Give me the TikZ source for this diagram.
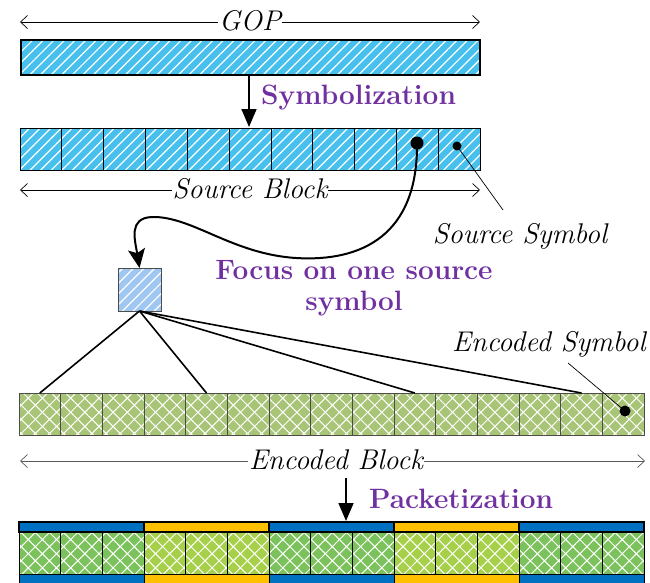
\documentclass[tikz,border=0pt]{standalone}
\usetikzlibrary{patterns.meta,arrows.meta}
\definecolor{srcblue}{RGB}{72,192,238}
\definecolor{focusblue}{RGB}{160,198,242}
\definecolor{encgreen}{RGB}{168,196,118}
\definecolor{pkgreenA}{RGB}{124,194,92}
\definecolor{pkgreenB}{RGB}{166,208,74}
\definecolor{hdrblue}{RGB}{0,112,192}
\definecolor{hdryellow}{RGB}{255,192,0}
\definecolor{steppurple}{RGB}{112,48,160}
\tikzset{
  % base colour and white stripes are laid down before the outline is stroked
  striped/.style={preaction={fill=#1},preaction={pattern={Lines[angle=45,distance=7.5pt,line width=1.2pt]},pattern color=white,fill opacity=0.5}},
  diamonds/.style={preaction={fill=#1},preaction={pattern={Hatch[angle=45,distance=10pt,line width=1pt]},pattern color=white,fill opacity=0.55}},
  srccell/.style={draw=black,line width=0.7pt,striped=srcblue,minimum width=41.82pt,minimum height=42pt,inner sep=0pt,outer sep=0pt},
  enccell/.style={draw=black!70,line width=0.7pt,diamonds=encgreen,minimum width=41.667pt,minimum height=42pt,inner sep=0pt,outer sep=0pt},
  pktcell/.style={draw=black,line width=0.7pt,diamonds=#1,minimum width=41.667pt,minimum height=42pt,inner sep=0pt,outer sep=0pt},
  dimline/.style={line width=0.7pt,{Straight Barb[length=7pt,width=13pt,line width=0.7pt]}-{Straight Barb[length=7pt,width=13pt,line width=0.7pt]}},
  dimlabel/.style={fill=white,inner sep=1pt,font=\fontsize{28.5}{32}\selectfont\itshape},
  plainlabel/.style={inner sep=0pt,font=\fontsize{28.5}{32}\selectfont\itshape},
  steplabel/.style={inner sep=0pt,text=steppurple,font=\fontsize{28}{31}\selectfont\bfseries},
  bigarrow/.style={line width=1.6pt,-{Triangle[length=18pt,width=15pt]}},
  fanline/.style={line width=1.6pt},
  pointer/.style={line width=0.7pt},
  dot/.style={circle,fill=black,inner sep=0pt,outer sep=0pt},
}
\begin{document}
\begin{tikzpicture}[x=1pt,y=-1pt]
\useasboundingbox (0,0) rectangle (650,582);

% GOP extent and bar
\coordinate (gopL) at (20,22);
\coordinate (gopR) at (480,22);
\draw[dimline] (gopL) -- (gopR);
\node[dimlabel] (goplabel) at (250,21) {GOP};
\node[draw=black,line width=2pt,striped=srcblue,minimum width=459pt,minimum height=35pt,inner sep=0pt] (gop) at (250.5,57) {};

% Symbolization step
\coordinate (symTop) at (249,75);
\coordinate (symBot) at (249,127);
\draw[bigarrow] (symTop) -- (symBot);
\node[steplabel,anchor=west] (symlabel) at (261,98) {Symbolization};

% source block of 11 symbols
\foreach \i in {1,...,11}{
  \node[srccell] (s\i) at ({20+(\i-0.5)*41.82},149.5) {};
}
\node[dot,minimum size=13pt] (bigdot) at (417,143) {};
\node[dot,minimum size=9pt] (smalldot) at (457,146) {};

\coordinate (sbL) at (20,190);
\coordinate (sbR) at (480,190);
\draw[dimline] (sbL) -- (sbR);
\node[dimlabel] (sblabel) at (250,189) {Source Block};

\node[plainlabel] (srcsym) at (520,236) {Source Symbol};
\coordinate (srcsymtip) at (503,210);
\draw[pointer] (smalldot.center) -- (srcsymtip);

% the chosen symbol
\node[draw=black!70,line width=0.8pt,striped=focusblue,minimum size=43pt,inner sep=0pt,outer sep=0pt] (focus) at (139.5,289.5) {};
\draw[line width=2pt,-{Stealth[length=19pt,width=17pt,inset=4pt]}]
  (bigdot.center) .. controls (418,235) and (362,262) .. (296,258)
  .. controls (232,254) and (192,216) .. (152,217)
  .. controls (128,218) and (135,240) .. (focus.north);
\node[steplabel,align=center] (focuslabel) at (354,288) {Focus on one source\\symbol};

% encoded block of 15 symbols
\foreach \i in {1,...,15}{
  \node[enccell] (e\i) at ({19+(\i-0.5)*41.667},414) {};
}
\foreach \i in {1,5,10,14}{
  \draw[fanline] (focus.south) -- (e\i.north);
}
\node[dot,minimum size=11pt] (encdot) at (625,411) {};
\node[plainlabel,anchor=west] (encsym) at (452,344) {Encoded Symbol};
\coordinate (encsymtip) at (568,363);
\draw[pointer] (encsymtip) -- (encdot.center);

\coordinate (ebL) at (20,461);
\coordinate (ebR) at (645,461);
\draw[dimline,draw=black!65] (ebL) -- (ebR);
\node[dimlabel] (eblabel) at (336,460) {Encoded Block};

% Packetization step
\coordinate (pktTop) at (346,478);
\coordinate (pktBot) at (346,521);
\draw[bigarrow] (pktTop) -- (pktBot);
\node[steplabel,anchor=west] (pktlabel) at (369,499) {Packetization};

% five packets of three symbols each
\foreach \k/\hc/\gc in {0/hdrblue/pkgreenA,1/hdryellow/pkgreenB,2/hdrblue/pkgreenA,3/hdryellow/pkgreenB,4/hdrblue/pkgreenA}{
  \pgfmathsetmacro{\xa}{19+125*\k}
  \fill[\hc] (\xa,574) rectangle ({\xa+125},584);
  \foreach \j in {0,1,2}{
    \node[pktcell=\gc] (p\k\j) at ({\xa+(\j+0.5)*41.667},553) {};
  }
  \draw[black,line width=1.4pt,fill=\hc] (\xa,522) rectangle ({\xa+125},532);
  \draw[black,line width=0.9pt] (\xa,532) -- (\xa,584);
}
\draw[black,line width=0.9pt] (644,532) -- (644,584);
\end{tikzpicture}
\end{document}
